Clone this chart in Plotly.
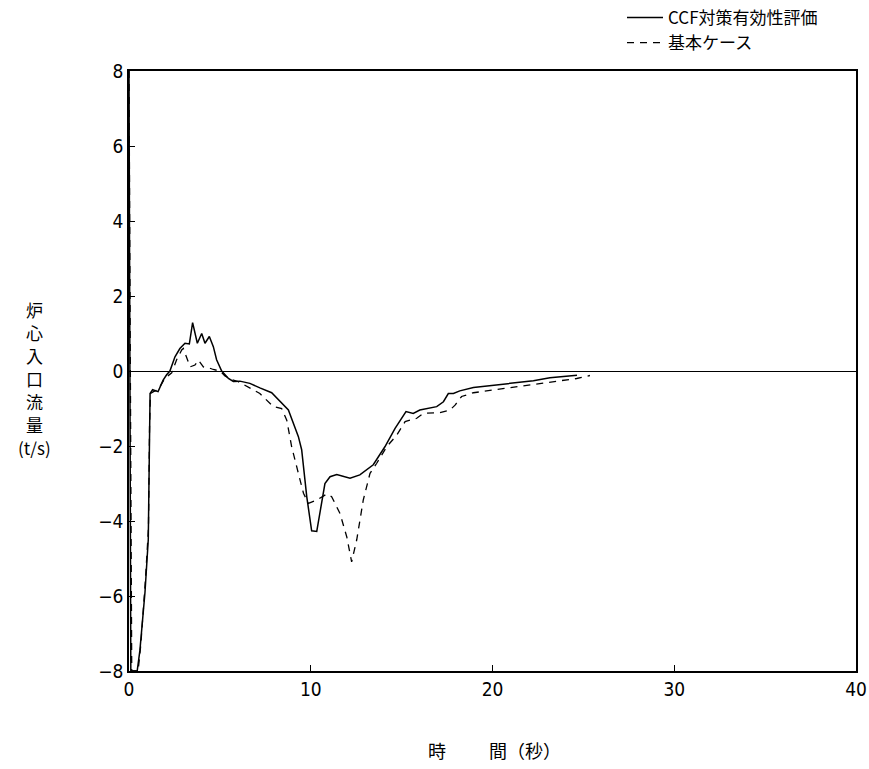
import plotly.graph_objects as go

# CCF対策有効性評価 (solid)
time_ccf = [0.0, 0.1, 0.45, 0.6, 0.88, 1.06, 1.16, 1.3, 1.6, 1.87, 2.07, 2.25, 2.53, 2.8, 3.08,
            3.32, 3.5, 3.76, 4.0, 4.18, 4.42, 4.64, 4.82, 5.1, 5.47, 5.74, 6.1, 6.65, 7.2, 7.85,
            8.77, 9.32, 9.5, 9.78, 10.05, 10.33, 10.78, 11.06, 11.43, 12.16, 12.7, 13.44, 14.08,
            14.64, 15.24, 15.64, 16.0, 16.93, 17.3, 17.57, 17.85, 18.2, 18.95, 20.78, 22.25,
            23.16, 24.45, 24.65]
flow_ccf = [8.0, -8.0, -8.0, -7.45, -5.9, -4.5, -0.6, -0.5, -0.55, -0.25, -0.1, 0.0, 0.38, 0.6, 0.74,
            0.72, 1.29, 0.74, 1.0, 0.74, 0.92, 0.65, 0.3, 0.0, -0.2, -0.28, -0.27, -0.33, -0.45, -0.58,
            -1.04, -1.75, -2.1, -3.35, -4.26, -4.28, -3.0, -2.82, -2.76, -2.86, -2.77, -2.5, -2.02,
            -1.53, -1.08, -1.13, -1.04, -0.95, -0.82, -0.6, -0.6, -0.53, -0.44, -0.35, -0.26,
            -0.18, -0.12, -0.11]

# 基本ケース (dashed)
time_base = [0.0, 0.15, 0.5, 0.65, 0.9, 1.07, 1.13, 1.18, 1.35, 1.6, 1.98, 2.35, 2.62, 2.9, 2.99,
             3.17, 3.36, 3.63, 3.82, 4.09, 4.36, 4.64, 5.0, 5.28, 5.65, 6.0, 6.47, 7.2, 7.94, 8.4,
             8.68, 8.95, 9.32, 9.6, 9.87, 10.33, 10.88, 11.15, 11.61, 11.98, 12.25, 12.53, 12.89,
             13.26, 13.63, 14.18, 14.73, 15.19, 15.83, 16.19, 17.1, 17.66, 17.94, 18.3, 18.95,
             20.78, 22.6, 23.7, 24.63, 25.36]
flow_base = [8.0, -8.0, -8.0, -7.3, -5.6, -4.2, -1.5, -0.6, -0.55, -0.5, -0.19, -0.05, 0.3, 0.56, 0.6,
             0.38, 0.11, 0.16, 0.29, 0.11, 0.09, 0.04, 0.0, -0.13, -0.23, -0.28, -0.4, -0.6, -0.95, -1.0,
             -1.31, -2.02, -2.73, -3.26, -3.53, -3.44, -3.28, -3.35, -3.8, -4.42, -5.09, -4.5, -3.44,
             -2.73, -2.46, -2.02, -1.71, -1.35, -1.26, -1.13, -1.11, -1.04, -0.91, -0.68, -0.58,
             -0.46, -0.35, -0.26, -0.2, -0.12]

series_names = ["CCF対策有効性評価", "基本ケース"]
x_ticks = [0, 10, 20, 30, 40]
y_ticks = [-8, -6, -4, -2, 0, 2, 4, 6, 8]
y_title_chars = ["炉", "心", "入", "口", "流", "量", "(t/s)"]

FONT = "Liberation Sans Narrow, DejaVu Sans Condensed, Noto Sans CJK JP, sans-serif"
CJK = "Noto Sans CJK JP, sans-serif"

W, H = 869, 769
L, R, T, B = 129, 13, 71, 98
PW, PH = W - L - R, H - T - B


def px_x(p):
    return (p - L) / PW


def px_y(p):
    return (H - B - p) / PH


fig = go.Figure()
fig.add_trace(go.Scatter(x=time_ccf, y=flow_ccf, mode="lines", name=series_names[0],
                         line=dict(color="black", width=1.5), legend="legend"))
fig.add_trace(go.Scatter(x=time_base, y=flow_base, mode="lines", name=series_names[1],
                         line=dict(color="black", width=1.3, dash="7px,6px"), legend="legend2"))

axis_common = dict(showgrid=False, showline=True, linecolor="black", linewidth=1.5,
                   mirror=True, ticks="inside", ticklen=6, tickcolor="black", tickwidth=1,
                   tickfont=dict(family=FONT, size=19, color="black"))

leg_common = dict(xanchor="left", yanchor="middle", bgcolor="rgba(0,0,0,0)",
                  font=dict(family=CJK, size=17, color="black"), itemwidth=36,
                  borderwidth=0)

fig.update_layout(
    width=W, height=H,
    margin=dict(l=L, r=R, t=T, b=B, autoexpand=False),
    paper_bgcolor="white", plot_bgcolor="white",
    font=dict(family=FONT, color="black"),
    xaxis=dict(range=[0, 40], tickvals=x_ticks, zeroline=False, **axis_common),
    yaxis=dict(range=[-8, 8], tickvals=y_ticks, zeroline=True, zerolinecolor="black",
               zerolinewidth=1.2, **axis_common),
    legend=dict(x=px_x(622), y=px_y(18), **leg_common),
    legend2=dict(x=px_x(622), y=px_y(43), **leg_common),
    showlegend=True,
)

title_y = [309, 332, 355, 378, 401, 424, 447]
for ch, yy in zip(y_title_chars, title_y):
    fig.add_annotation(text=ch, xref="paper", yref="paper", x=px_x(35), y=px_y(yy),
                       xanchor="center", yanchor="middle", showarrow=False,
                       font=dict(family=CJK, size=17, color="black"))

fig.add_annotation(text="時", xref="paper", yref="paper", x=px_x(437), y=px_y(750),
                   xanchor="center", yanchor="middle", showarrow=False,
                   font=dict(family=CJK, size=18, color="black"))
fig.add_annotation(text="間（秒）", xref="paper", yref="paper", x=px_x(487), y=px_y(750),
                   xanchor="left", yanchor="middle", showarrow=False,
                   font=dict(family=CJK, size=18, color="black"))

fig.write_html("out.html", config={"displayModeBar": False},
               post_script="document.body.style.margin='0';")
